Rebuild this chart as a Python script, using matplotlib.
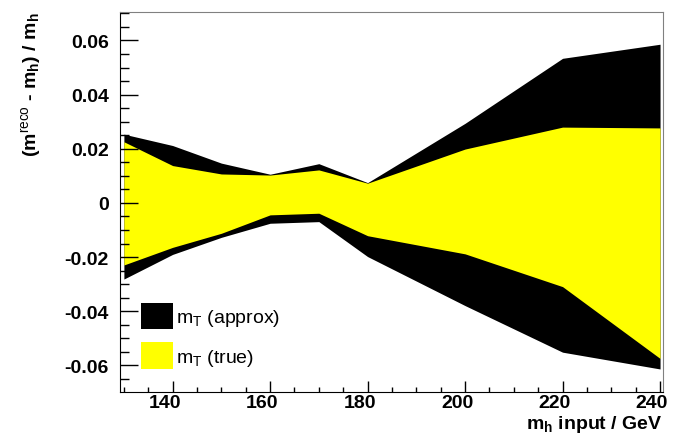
import matplotlib
matplotlib.use('Agg')
import matplotlib.pyplot as plt
import matplotlib.transforms as mtransforms
from matplotlib.patches import Patch
from matplotlib.ticker import MultipleLocator

plt.rcParams['font.family'] = ['Liberation Sans', 'DejaVu Sans']
plt.rcParams['mathtext.fontset'] = 'custom'
plt.rcParams['mathtext.rm'] = 'Liberation Sans'
plt.rcParams['mathtext.it'] = 'Liberation Sans'
plt.rcParams['mathtext.bf'] = 'Liberation Sans:bold'

# Higgs mass points and resolution bands
mh = [130, 140, 150, 160, 170, 180, 200, 220, 240]
approx_hi = [0.0254, 0.0212, 0.0147, 0.0106, 0.0145, 0.0075, 0.0294, 0.0534, 0.0586]
approx_lo = [-0.0281, -0.0190, -0.0127, -0.0075, -0.0069, -0.0198, -0.0379, -0.0551, -0.0613]
true_hi = [0.0226, 0.0138, 0.0107, 0.0103, 0.0122, 0.0073, 0.0199, 0.0280, 0.0277]
true_lo = [-0.0229, -0.0164, -0.0112, -0.0044, -0.0038, -0.0121, -0.0188, -0.0309, -0.0574]

fig = plt.figure(figsize=(6.73, 4.35), dpi=100)
ax = fig.add_axes([0.1783, 0.0972, 0.8068, 0.8729])

ax.fill_between(mh, approx_lo, approx_hi, color='black', linewidth=0)
ax.fill_between(mh, true_lo, true_hi, color='#ffff00', linewidth=0)

ax.set_xlim(129.2, 240.6)
ax.set_ylim(-0.0697, 0.0705)

ax.xaxis.set_major_locator(MultipleLocator(20))
ax.xaxis.set_minor_locator(MultipleLocator(5))
ax.yaxis.set_major_locator(MultipleLocator(0.02))
ax.yaxis.set_minor_locator(MultipleLocator(0.005))
ax.yaxis.set_major_formatter(plt.FuncFormatter(lambda v, p: '0' if abs(v) < 1e-9 else '%.2f' % v))

ax.tick_params(axis='x', which='major', direction='in', length=8, width=1, pad=2, labelsize=14)
ax.tick_params(axis='x', which='minor', direction='in', length=3.8, width=1)
ax.tick_params(axis='y', which='major', direction='in', length=13, width=1, pad=8, labelsize=14)
ax.tick_params(axis='y', which='minor', direction='in', length=6.5, width=1)
# x labels sit a little left of their ticks, like the original
shift = mtransforms.ScaledTranslation(-8 / 100, 0, fig.dpi_scale_trans)
for lab in ax.get_xticklabels():
    lab.set_fontweight('bold')
    lab.set_transform(lab.get_transform() + shift)
for lab in ax.get_yticklabels():
    lab.set_fontweight('bold')

ax.spines['left'].set_color('black')
ax.spines['bottom'].set_color('black')
ax.spines['top'].set_color('#808080')
ax.spines['right'].set_color('#808080')

fig.text(0.9851, 0.0135, r'$\mathbf{m}_{\mathbf{h}}$ input / GeV', ha='right', va='baseline',
         fontsize=14, fontweight='bold')
fig.text(0.047, 0.972, r'($\mathbf{m}^{\rm reco}$ - $\mathbf{m}_{\mathbf{h}}$) / $\mathbf{m}_{\mathbf{h}}$',
         ha='center', va='top', rotation=90, fontsize=14, fontweight='bold')

handles = [Patch(facecolor='black', edgecolor='none', label=r'm$_{T}$ (approx)'),
           Patch(facecolor='#ffff00', edgecolor='none', label=r'm$_{T}$ (true)')]
ax.legend(handles=handles, loc='upper left', bbox_to_anchor=(141 / 673, 1 - 304 / 435),
          bbox_transform=fig.transFigure, frameon=False, fontsize=14,
          handlelength=1.65, handleheight=1.70, handletextpad=0.15, labelspacing=0.67,
          borderpad=0, borderaxespad=0)

fig.savefig('out.png', dpi=100)
